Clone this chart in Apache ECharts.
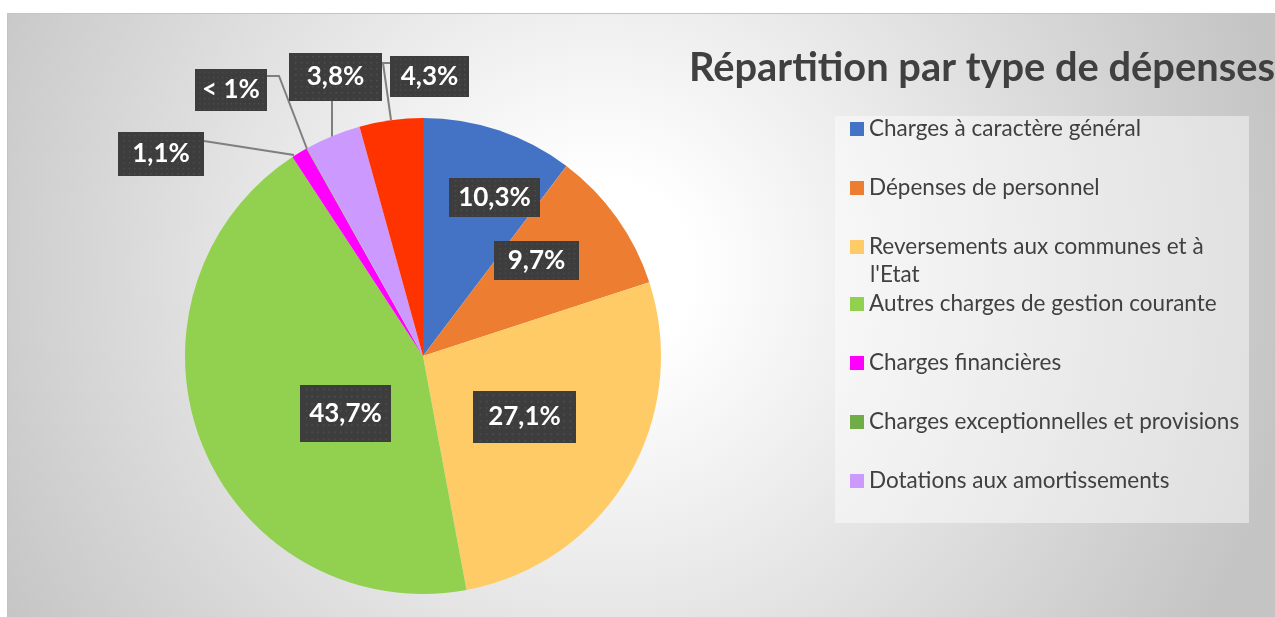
<!DOCTYPE html>
<meta charset="utf-8">
<style>
html, body { margin: 0; padding: 0; background: #fff; }
#frame {
  position: absolute; left: 7px; top: 13px; width: 1268px; height: 604px;
  border-top: 1px solid #c4c4c4; border-left: 1px solid #c4c4c4;
  background: radial-gradient(circle at 593px 257px, #ffffff 0px, #ffffff 90px, #c4c4c4 700px);
}
#container { position: absolute; left: 0; top: 0; width: 1275px; height: 617px; }
</style>
<body>
<div id="frame"></div>
<div id="container"></div>
<script src="https://cdn.jsdelivr.net/npm/echarts@6/dist/echarts.min.js"></script>
<script>

// chart data
var categories = [
  'Charges à caractère général',
  'Dépenses de personnel',
  "Reversements aux communes et à l'Etat",
  'Autres charges de gestion courante',
  'Charges financières',
  'Charges exceptionnelles et provisions',
  'Dotations aux amortissements',
  "Opérations d'ordre"
];
var shares = [10.3, 9.7, 27.1, 43.7, 1.1, 0.05, 3.8, 4.3];
var legendTop = categories.slice(0, 3);
var legendBottom = categories.slice(3, 7);

var colors = ['#4472c4', '#ed7d31', '#ffcb67', '#92d050', '#ff00ff', '#70ad47', '#cc99ff', '#ff3300'];

// pie geometry and label placement (offsets from the pie centre)
var cx = 423, cy = 356, radius = 238;
var labelSpots = [[71.5, -158.5], [113.5, -95.5], [101.5, 61], [-77.5, 57.5],
                  [-262, -202], [-192, -266], [-87.5, -279], [6.5, -279.5]];
var labelBoxes = [[91, 39], [85, 39], [103, 52], [91, 57], [86, 44], [72, 42], [93, 48], [79, 41]];
var leaders = {
  4: [[204, 141], [204, 141], [294, 155]],
  5: [[267, 76], [279, 76], [307, 149]],
  6: [[332, 101], [332, 101], [332, 137]],
  7: [[390, 63], [383, 63], [391, 120]]
};

// dotted texture for the label boxes
var tex = document.createElement('canvas');
tex.width = 96; tex.height = 48;
var g = tex.getContext('2d');
g.fillStyle = '#3d3d3d';
g.fillRect(0, 0, 96, 48);
g.fillStyle = '#525252';
for (var yy = 3; yy < 48; yy += 6) {
  for (var xx = ((yy / 6) % 2 ? 6 : 3); xx < 96; xx += 6) {
    g.fillRect(xx, yy, 1.5, 1.5);
  }
}

function fmt(v) {
  return v < 1 ? '< 1%' : v.toFixed(1).replace('.', ',') + '%';
}

var pieData = categories.map(function (name, i) {
  var inside = !leaders[i];
  return {
    name: name,
    value: shares[i],
    itemStyle: { color: colors[i] },
    label: { width: labelBoxes[i][0], height: labelBoxes[i][1], lineHeight: labelBoxes[i][1] },
    labelLine: { show: !inside }
  };
});

var dom = document.getElementById('container');
var myChart = echarts.init(dom, null, { renderer: 'canvas' });

var legendText = { fontFamily: 'Lato', fontSize: 22.5, color: '#404040', lineHeight: 28 };

var option = {
  backgroundColor: 'transparent',
  animation: false,
  title: {
    text: 'Répartition par type de dépenses',
    left: 689,
    top: 48,
    padding: 0,
    textStyle: { fontFamily: 'Lato', fontWeight: 'bold', fontSize: 39.8, color: '#404040' }
  },
  graphic: [
    {
      type: 'rect', left: 835, top: 116, z: -1,
      shape: { width: 414, height: 407 },
      style: { fill: 'rgba(255,255,255,0.45)' }
    },
    {
      type: 'text', left: 870, top: 263,
      style: { text: "l'Etat", font: '22.5px Lato', fill: '#404040' }
    }
  ],
  legend: [
    {
      orient: 'vertical', left: 850, top: 115, padding: 0,
      itemWidth: 14, itemHeight: 14, itemGap: 31,
      icon: 'rect', data: legendTop, textStyle: legendText,
      formatter: function (n) { return n.indexOf("l'Etat") > 0 ? 'Reversements aux communes et à' : n; }
    },
    {
      orient: 'vertical', left: 850, top: 290, padding: 0,
      itemWidth: 14, itemHeight: 14, itemGap: 31,
      icon: 'rect', data: legendBottom, textStyle: legendText
    }
  ],
  series: [
    {
      type: 'pie',
      center: [cx, cy],
      radius: radius,
      startAngle: 90,
      clockwise: true,
      avoidLabelOverlap: false,
      minAngle: 0,
      itemStyle: { borderWidth: 0 },
      emphasis: { disabled: true },
      label: {
        show: true,
        position: 'outside',
        formatter: function (p) { return fmt(p.value); },
        fontFamily: 'Lato',
        fontWeight: 'bold',
        fontSize: 26,
        color: '#ffffff',
        align: 'center',
        verticalAlign: 'middle',
        padding: 0,
        backgroundColor: { image: tex },
        shadowColor: 'rgba(0,0,0,0.45)',
        shadowBlur: 6,
        shadowOffsetX: 3,
        shadowOffsetY: 3
      },
      labelLine: {
        show: true,
        lineStyle: { color: '#7f7f7f', width: 2 }
      },
      labelLayout: function (p) {
        var i = p.dataIndex;
        var out = {
          x: cx + labelSpots[i][0],
          y: cy + labelSpots[i][1],
          align: 'center',
          verticalAlign: 'middle'
        };
        if (leaders[i]) out.labelLinePoints = leaders[i];
        return out;
      },
      data: pieData
    }
  ]
};

myChart.setOption(option);
window.addEventListener('resize', myChart.resize);
</script>
</body>
